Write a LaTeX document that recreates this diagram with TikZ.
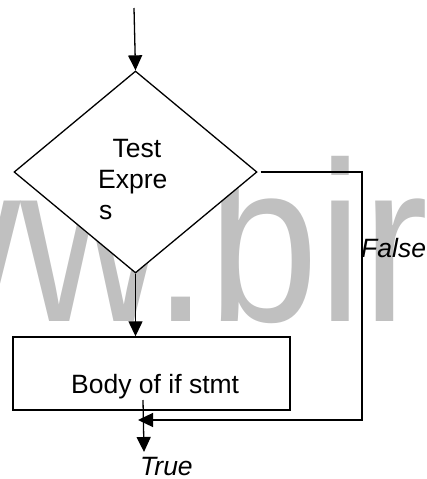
\documentclass[tikz,border=0pt]{standalone}
\usepackage{fontspec}
\setmainfont{Liberation Sans}
\usetikzlibrary{shapes.geometric,arrows.meta}
\definecolor{wmgray}{RGB}{192,192,192}

\begin{document}
\begin{tikzpicture}[x=1pt,y=-1pt,
  flow/.style={line width=1.3pt},
  arr/.style={flow,-{Triangle[length=15pt,width=14pt]}},
  lbl/.style={inner sep=0pt,anchor=base west,font=\fontsize{26.5}{30}\selectfont},
  decision/.style={diamond,draw,fill=white,line width=1.3pt,aspect=1.2,
    minimum width=243pt,minimum height=202pt,inner sep=0pt},
  process/.style={rectangle,draw,line width=1.4pt,
    minimum width=277pt,minimum height=73pt,inner sep=0pt}]
\useasboundingbox (0,0) rectangle (427,479);
\clip (0,0) rectangle (427,479);

% background lettering
\node[anchor=base west,inner sep=0pt,text=wmgray] (banner) at (-122.5,321)
  {\scalebox{0.87}[1]{\fontsize{228}{228}\selectfont ww.bir}};

% decision and body
\node[decision] (test) at (135.5,172) {};
\node[process] (body) at (151.5,373.5) {};

% labels
\node[lbl] (t1) at (112.5,157) {Test};
\node[lbl] (t2) at (98,188) {Expre};
\node[lbl] (t3) at (99,219) {s};
\node[lbl] (bodytext) at (71,393) {Body of if stmt};
\node[lbl,font=\fontsize{26.5}{30}\selectfont\itshape] (falselbl) at (361,257) {False};
\node[lbl,font=\fontsize{26.5}{30}\selectfont\itshape] (truelbl) at (140,475) {True};

% connectors
\coordinate (entry) at (134,8);
\draw[arr] (entry) -- (test.north);
\draw[arr] (test.south) -- (test.south |- body.north);

\coordinate (bodyout) at (143,400);
\coordinate (exit) at (144,452);
\draw[arr] (bodyout) -- (exit);

\coordinate (bend) at (362,172);
\coordinate (merge) at (138,420);
\draw[arr] ([xshift=3pt]test.east) -- (bend) |- (merge);
\end{tikzpicture}
\end{document}
